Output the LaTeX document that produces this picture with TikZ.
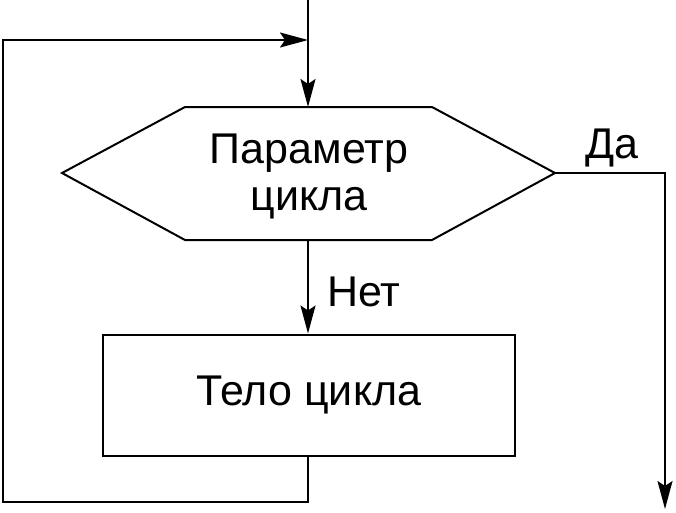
\documentclass[tikz,border=0pt]{standalone}
\usepackage{fontspec}
\setmainfont{Liberation Sans}
\usetikzlibrary{arrows.meta}
\begin{document}
\begin{tikzpicture}[x=1pt,y=-1pt,
  line/.style={line width=2pt},
  arr/.style={line, -{Stealth[length=28pt,width=15pt,inset=5pt]}},
  lbl/.style={font=\fontsize{43}{47}\selectfont, inner sep=0pt}]
\useasboundingbox[fill=white] (0,0) rectangle (676,512);
% coordinates
\coordinate (top) at (308,0);
\coordinate (hT) at (308,107);
\coordinate (hB) at (308,240);
\coordinate (hL) at (62,173);
\coordinate (hR) at (555,173);
\coordinate (daC) at (665,173);
\coordinate (daE) at (665,509);
\coordinate (lpB) at (308,502);
\coordinate (lpBL) at (3,502);
\coordinate (lpTL) at (3,40);
\coordinate (lpT) at (308,40);
% hexagon
\draw[line] (hL) -- (185,107) -- (432,107) -- (hR) -- (432,240) -- (185,240) -- cycle;
\node[lbl, align=center] (hex) at (309,176) {Параметр\\цикла};
% body box
\node[draw, line, minimum width=412, minimum height=121, inner sep=0pt, lbl] (body) at (309,395) {Тело цикла};
% connectors
\draw[arr] (top) -- (hT);
\draw[arr] (hB) -- (body.north -| hB);
\draw[arr] (hR) -- (daC) -- (daE);
\draw[arr] (body.south -| lpB) -- (lpB) -- (lpBL) -- (lpTL) -- (lpT);
% labels
\node[lbl] (net) at (364,292) {Нет};
\node[lbl] (da) at (612,148) {Да};
\end{tikzpicture}
\end{document}
